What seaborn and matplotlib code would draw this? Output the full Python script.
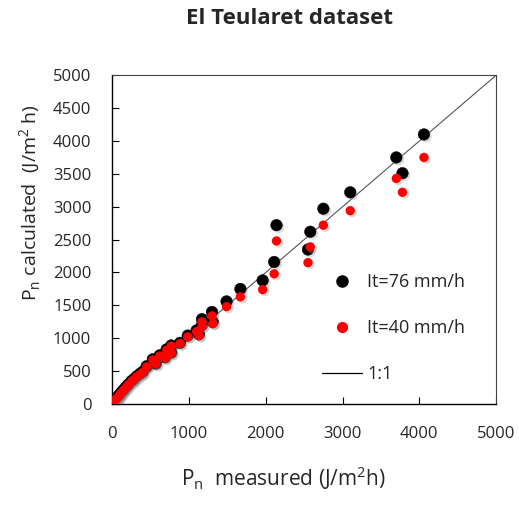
import matplotlib
matplotlib.use("Agg")
import matplotlib.pyplot as plt
import matplotlib.patheffects as pe
from matplotlib.lines import Line2D
import seaborn as sns
import pandas as pd

measured = [4060, 3700, 3780, 3100, 2750, 2140, 2580, 2550, 2110, 1960, 1670, 1490,
            1300, 1310, 1170, 1170, 1130, 1100, 985, 885, 770, 710, 770, 690, 620,
            530, 570, 450, 400, 365, 320, 280, 250, 210, 180, 150, 120, 100, 80, 60,
            45, 30, 20, 10, 0]
calc_76 = [4100, 3750, 3510, 3220, 2970, 2720, 2620, 2350, 2160, 1880, 1750, 1560,
           1400, 1250, 1290, 1200, 1060, 1120, 1040, 930, 890, 830, 780, 710, 740,
           680, 615, 575, 490, 460, 420, 375, 345, 295, 255, 215, 175, 145, 115, 90,
           70, 48, 32, 18, 5]
calc_40 = [3750, 3430, 3220, 2940, 2720, 2480, 2390, 2150, 1980, 1740, 1630, 1480,
           1340, 1220, 1250, 1180, 1040, 1100, 1020, 920, 880, 820, 770, 700, 730,
           670, 610, 565, 480, 450, 415, 370, 340, 290, 250, 210, 170, 140, 110, 85,
           65, 45, 30, 16, 5]
labels = ["It=76 mm/h", "It=40 mm/h", "1:1"]

sns.set_theme(style="white")
plt.rcParams['font.family'] = ['Open Sans', 'DejaVu Sans']

fig = plt.figure(figsize=(5.19, 5.05), dpi=100)
ax = fig.add_axes([0.216, 0.2, 0.74, 0.651])

shadow = [pe.SimplePatchShadow(offset=(1.5, -1.5), shadow_rgbFace=(0.6, 0.6, 0.6), alpha=0.35), pe.Normal()]

ax.plot([0, 5000], [0, 5000], color="#555555", lw=0.8, zorder=1)

df76 = pd.DataFrame({"x": measured, "y": calc_76})
df40 = pd.DataFrame({"x": measured, "y": calc_40})
sns.scatterplot(data=df76, x="x", y="y", ax=ax, color="black", s=70,
                edgecolor="black", linewidth=0.3, zorder=2, legend=False)
ax.collections[-1].set_path_effects(shadow)
sns.scatterplot(data=df40, x="x", y="y", ax=ax, color="#FF0000", s=45,
                edgecolor="none", linewidth=0, zorder=3, legend=False)
ax.collections[-1].set_path_effects(shadow)

ax.set_xlim(0, 5000)
ax.set_ylim(0, 5000)
ax.set_xticks(range(0, 5001, 1000))
ax.set_yticks(range(0, 5001, 500))
ax.tick_params(direction="in", length=5, width=0.8, color="black", labelsize=12,
               bottom=True, left=True)
ax.tick_params(axis="x", pad=16)
ax.tick_params(axis="y", pad=15)
for side in ["left", "bottom"]:
    ax.spines[side].set_color("black")
    ax.spines[side].set_linewidth(1.0)
for side in ["top", "right"]:
    ax.spines[side].set_color("#444444")
    ax.spines[side].set_linewidth(0.8)

ax.set_xlabel(r"P$_\mathregular{n}$  measured (J/m$^\mathregular{2}$h)", fontsize=15)
ax.xaxis.set_label_coords((283 - 112) / 384, -(478 - 404) / 329)
ax.xaxis.label.set_va("center")
ax.set_ylabel(r"P$_\mathregular{n}$ calculated  (J/m$^\mathregular{2}$ h)", fontsize=14)
ax.yaxis.set_label_coords(-(112 - 30) / 384, (404 - 202) / 329)
ax.yaxis.label.set_va("center")

fig.text(290 / 519, 1 - 18 / 505, "El Teularet dataset", ha="center", va="center",
         fontsize=16, fontweight="bold")

handles = [
    Line2D([], [], marker="o", ls="none", color="black", markersize=8),
    Line2D([], [], marker="o", ls="none", color="#FF0000", markersize=7),
    Line2D([], [], color="black", lw=0.9),
]
ax.legend(handles, labels, loc="center left", bbox_to_anchor=(0.505, 0.23),
          frameon=False, fontsize=13, labelspacing=1.55, handlelength=2.2,
          handletextpad=0.3)

fig.savefig("out.png", dpi=100)
